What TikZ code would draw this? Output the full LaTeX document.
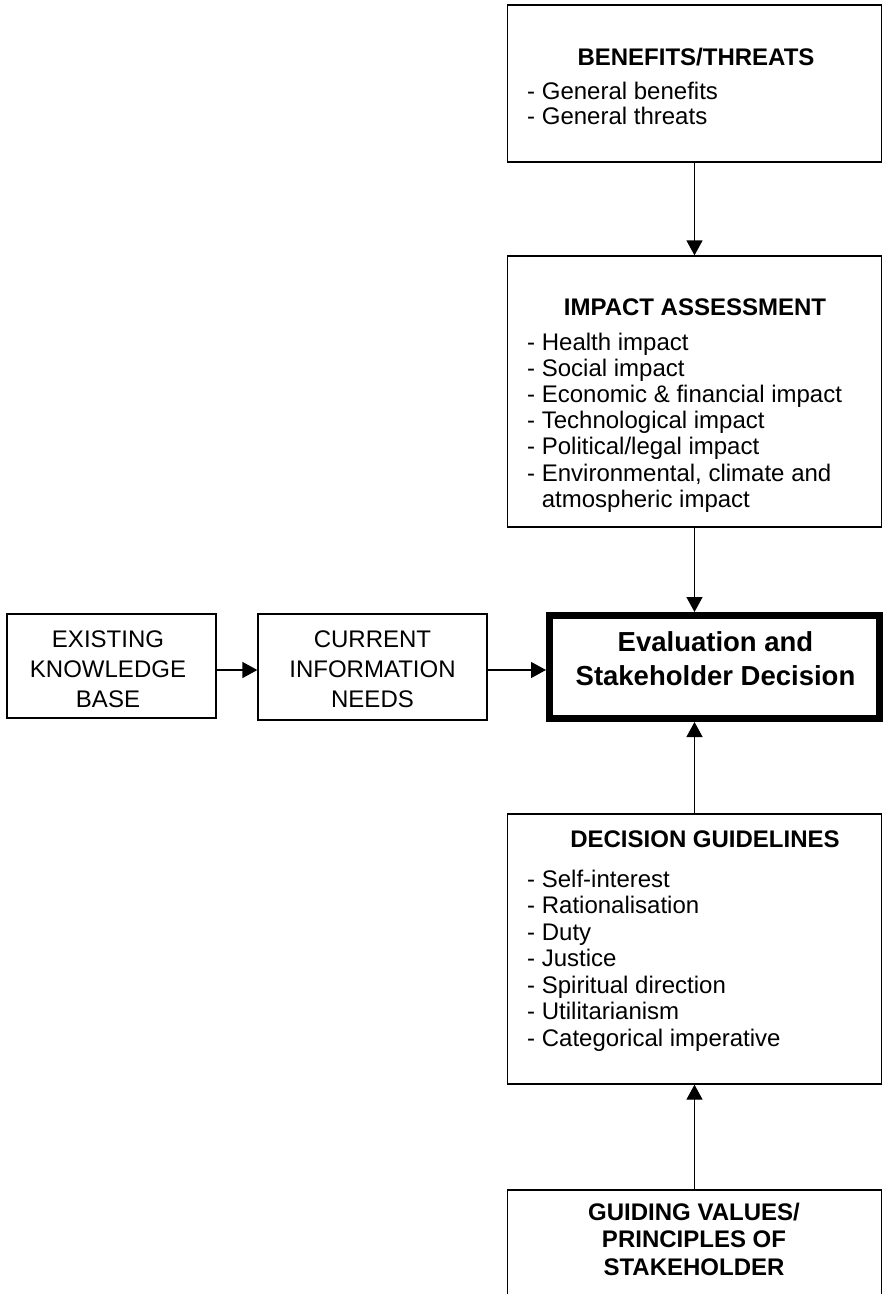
\documentclass[tikz,border=0pt]{standalone}
\usepackage{fontspec}
\setmainfont{Liberation Sans}
\usetikzlibrary{arrows.meta}
\begin{document}
\begin{tikzpicture}[x=1pt, y=-1pt,
  box/.style={draw, line width=1.3pt, inner sep=0pt, outer sep=0.65pt},
  keybox/.style={draw, line width=7pt, inner sep=0pt, outer sep=3.5pt},
  head/.style={font=\bfseries\fontsize{24}{26}\selectfont, anchor=base, inner sep=0pt},
  entry/.style={font=\fontsize{24}{26}\selectfont, anchor=base west, inner sep=0pt},
  caps/.style={font=\fontsize{24}{26}\selectfont, anchor=base, inner sep=0pt},
  keytext/.style={font=\bfseries\fontsize{27.5}{33}\selectfont, anchor=base, inner sep=0pt},
  link/.style={line width=1.3pt, -{Triangle[width=16pt,length=15pt]}}
]
\useasboundingbox (0,0) rectangle (883,1294);
\clip (0,0) rectangle (883,1294);

% boxes
\node[box, minimum width=374pt, minimum height=157pt] (ben) at (694.5,83.5) {};
\node[box, minimum width=374pt, minimum height=271pt] (imp) at (694.5,391.5) {};
\node[keybox, minimum width=330pt, minimum height=103pt] (eval) at (714.5,667) {};
\node[box, minimum width=209pt, minimum height=104pt] (know) at (111.5,666) {};
\node[box, minimum width=229pt, minimum height=106pt] (need) at (372.5,667) {};
\node[box, minimum width=374pt, minimum height=270pt] (guide) at (694.5,949) {};
\node[box, minimum width=374pt, minimum height=210pt] (vals) at (694.5,1295) {};

% benefits / threats
\node[head] (ben-t) at (696,65) {BENEFITS/THREATS};
\node[entry] (ben-1) at (527,99) {- General benefits};
\node[entry] (ben-2) at (527,124.5) {- General threats};

% impact assessment
\node[head] (imp-t) at (695,315) {IMPACT ASSESSMENT};
\foreach \t [count=\i from 0] in {Health impact, Social impact, Economic \& financial impact, Technological impact, Political/legal impact, {Environmental, climate and}}
  \node[entry] (imp-\i) at (527,{350+26.2*\i}) {- \t};
\node[entry] (imp-6) at (527,507.2) {\hphantom{- }atmospheric impact};

% evaluation
\node[keytext] (eval-1) at (715.5,651.7) {Evaluation and};
\node[keytext] (eval-2) at (715.5,685) {Stakeholder Decision};

% knowledge and information needs
\node[caps] (know-1) at (108,647) {EXISTING};
\node[caps] (know-2) at (108,677) {KNOWLEDGE};
\node[caps] (know-3) at (108,707) {BASE};
\node[caps] (need-1) at (372.5,647) {CURRENT};
\node[caps] (need-2) at (372.5,677) {INFORMATION};
\node[caps] (need-3) at (372.5,707) {NEEDS};

% decision guidelines
\node[head] (guide-t) at (705,847) {DECISION GUIDELINES};
\foreach \t [count=\i from 0] in {Self-interest, Rationalisation, Duty, Justice, Spiritual direction, Utilitarianism, Categorical imperative}
  \node[entry] (guide-\i) at (527,{887+26.5*\i}) {- \t};

% guiding values
\node[head] (vals-1) at (694,1220) {GUIDING VALUES/};
\node[head] (vals-2) at (694,1247.5) {PRINCIPLES OF};
\node[head] (vals-3) at (694,1275) {STAKEHOLDER};

% connectors
\draw[link] (ben.south) -- (imp.north);
\draw[link] (imp.south) -- (imp.south |- eval.north);
\draw[link] (guide.north) -- (guide.north |- eval.south);
\draw[link] (vals.north) -- (guide.south);
\draw[link] ([yshift=-4pt]know.east) -- ([yshift=-4pt]know.east -| need.west);
\draw[link] ([yshift=-3pt]need.east) -- ([yshift=-3pt]need.east -| eval.west);
\end{tikzpicture}
\end{document}
